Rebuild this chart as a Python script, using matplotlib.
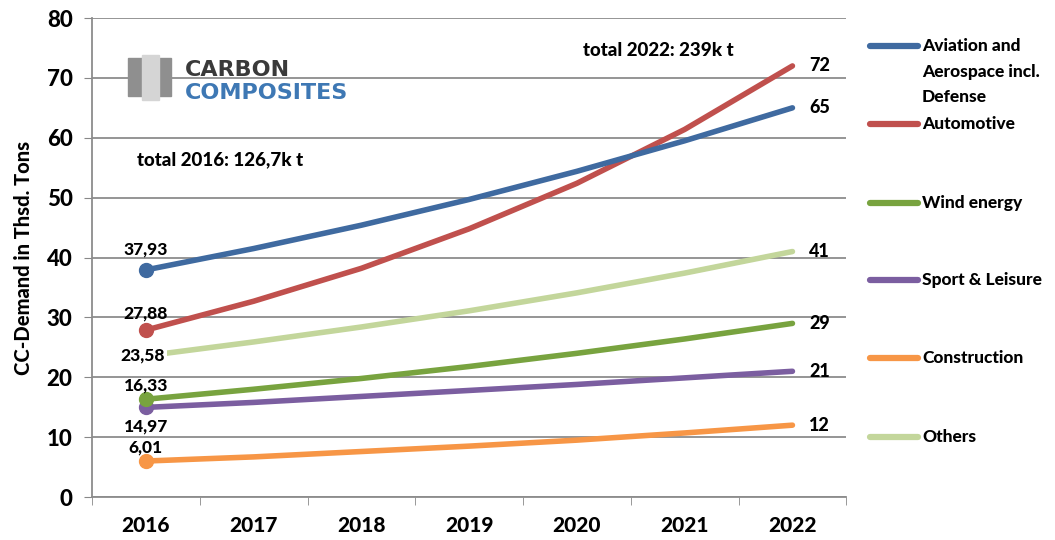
import matplotlib.pyplot as plt
from matplotlib.lines import Line2D

years = [2016, 2017, 2018, 2019, 2020, 2021, 2022]
series_names = ["Aviation and\nAerospace incl.\nDefense", "Automotive", "Wind energy",
                "Sport & Leisure", "Construction", "Others"]
aviation = [37.93, 41.5, 45.4, 49.7, 54.4, 59.5, 65]
automotive = [27.88, 32.7, 38.2, 44.8, 52.4, 61.4, 72]
wind = [16.33, 18.0, 19.8, 21.8, 24.0, 26.4, 29]
sport = [14.97, 15.8, 16.8, 17.8, 18.8, 19.9, 21]
construction = [6.01, 6.7, 7.6, 8.5, 9.5, 10.7, 12]
others = [23.58, 25.9, 28.4, 31.1, 34.1, 37.4, 41]
start_labels = ["37,93", "27,88", "16,33", "14,97", "6,01", "23,58"]
end_labels = ["65", "72", "29", "21", "12", "41"]

colors = ["#3F6AA0", "#C0504D", "#78A33F", "#7B5EA0", "#F79646", "#C3D69B"]
all_series = [aviation, automotive, wind, sport, construction, others]

plt.rcParams['font.family'] = ['Lato', 'DejaVu Sans']
plt.rcParams['font.weight'] = 'bold'

fig = plt.figure(figsize=(10.55, 5.4), dpi=100)
ax = fig.add_axes([0.0872, 0.0796, 0.715, 0.887])

x = list(range(len(years)))
# others drawn first so it sits behind
order = [5, 4, 3, 2, 1, 0]
for i in order:
    ax.plot(x, all_series[i], color=colors[i], lw=4, solid_capstyle='round', zorder=3)
    if i != 5:
        ax.plot(x[0], all_series[i][0], 'o', color=colors[i], ms=10, zorder=4)

# start labels
offsets = {0: (0, 9, 'bottom'), 1: (0, 6, 'bottom'), 2: (0, 4, 'bottom'),
           3: (0, -8, 'top'), 4: (0, 4, 'bottom'), 5: (-2, 0, 'center')}
for i in range(6):
    dx, dy, va = offsets[i]
    bbox = dict(fc='white', ec='none', pad=1) if i == 5 else None
    ax.annotate(start_labels[i], (x[0], all_series[i][0]), xytext=(dx, dy),
                textcoords='offset points', ha='center', va=va, fontsize=12.5,
                fontweight='black', zorder=6, bbox=bbox)
for i in range(6):
    ax.annotate(end_labels[i], (x[-1], all_series[i][-1]), xytext=(12, 0),
                textcoords='offset points', ha='left', va='center', fontsize=13,
                fontweight='black')

ax.text(-0.08, 55.5, "total 2016: 126,7k t", fontsize=13.5, fontweight='black')
ax.text(4.06, 73.6, "total 2022: 239k t", fontsize=13.5, fontweight='black')

# logo
ax.text(0.36, 70.3, "CARBON", fontsize=16, fontweight='black', color='#3a3a3a',
        family='DejaVu Sans')
ax.text(0.36, 66.4, "COMPOSITES", fontsize=16, fontweight='black', color='#3E78B4',
        family='DejaVu Sans')
ax.add_patch(plt.Rectangle((-0.17, 67.0), 0.40, 6.3, color='#8f8f8f', zorder=5))
ax.add_patch(plt.Rectangle((-0.04, 66.3), 0.16, 7.6, color='#d5d5d5', zorder=6))

ax.set_xlim(-0.5, 6.5)
ax.set_ylim(0, 80)
ax.set_yticks(range(0, 81, 10))
ax.set_xticks(x)
ax.set_xticklabels([str(y) for y in years], fontsize=15, fontweight='black')
ax.set_xticks([v - 0.5 for v in range(8)], minor=True)
ax.tick_params(axis='x', which='major', length=0, pad=14)
ax.tick_params(axis='x', which='minor', length=6, color='#888888', direction='out')
ax.tick_params(axis='y', length=6, color='#888888', labelsize=16, pad=8)
for lab in ax.get_yticklabels():
    lab.set_fontweight('black')
ax.grid(axis='y', color='#8c8c8c', lw=1.3)
ax.set_axisbelow(True)
for s in ['top', 'right']:
    ax.spines[s].set_visible(False)
for s in ['left', 'bottom']:
    ax.spines[s].set_color('#8c8c8c')
    ax.spines[s].set_linewidth(1.3)
ax.set_ylabel("CC-Demand in Thsd. Tons", fontsize=14.5, fontweight='black', labelpad=10)

# legend built by hand to match the spread-out layout
leg_y = [46, 124, 203, 280, 358, 437]
for i in range(6):
    yf = 1 - leg_y[i] / 540
    fig.add_artist(Line2D([870 / 1055, 918 / 1055], [yf, yf], color=colors[i], lw=4.5,
                          solid_capstyle='round', transform=fig.transFigure))
    for k, line in enumerate(series_names[i].split("\n")):
        fig.text(922 / 1055, 1 - (leg_y[i] + 25.5 * k) / 540, line, fontsize=12.5,
                 fontweight='black', va='center')

fig.savefig("out.png", dpi=100)
